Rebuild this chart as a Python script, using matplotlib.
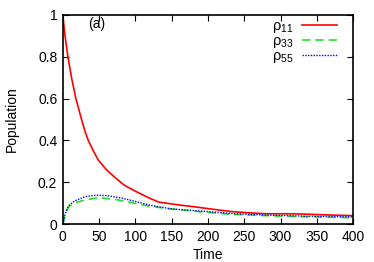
import matplotlib
matplotlib.use("Agg")
import matplotlib.pyplot as plt
from matplotlib.ticker import FuncFormatter

plt.rcParams['font.family'] = ['Liberation Sans', 'DejaVu Sans']
plt.rcParams['mathtext.fontset'] = 'custom'
plt.rcParams['mathtext.rm'] = 'Liberation Sans'
plt.rcParams['mathtext.it'] = 'Liberation Sans'

t11 = [0, 3, 7, 12, 18, 25, 30, 35, 42, 49, 60, 72, 85, 95, 108, 118, 132, 150, 165, 180, 197, 215, 234, 255, 280, 300, 327, 360, 400]
rho11 = [1.0, 0.9, 0.8, 0.7, 0.6, 0.51, 0.45, 0.4, 0.35, 0.305, 0.26, 0.222, 0.185, 0.166, 0.143, 0.126, 0.105, 0.096, 0.089, 0.083, 0.075, 0.067, 0.059, 0.054, 0.049, 0.049, 0.048, 0.044, 0.040]

t33 = [0, 3, 6, 9, 16, 30, 49, 72, 95, 118, 141, 188, 234, 280, 327, 400]
rho33 = [0.0, 0.04, 0.07, 0.086, 0.10, 0.115, 0.126, 0.118, 0.102, 0.086, 0.075, 0.059, 0.046, 0.040, 0.035, 0.030]

t55 = [0, 3, 6, 9, 16, 30, 45, 60, 80, 100, 120, 150, 190, 234, 280, 330, 400]
rho55 = [0.0, 0.045, 0.075, 0.09, 0.11, 0.13, 0.138, 0.136, 0.125, 0.108, 0.09, 0.072, 0.062, 0.05, 0.043, 0.038, 0.034]

xticks = [0, 50, 100, 150, 200, 250, 300, 350, 400]
yticks = [0, 0.2, 0.4, 0.6, 0.8, 1.0]

fig = plt.figure(figsize=(3.74, 2.62), dpi=100)
ax = fig.add_axes([0.168, 0.145, 0.776, 0.798])

ax.plot(t11, rho11, color='#ff0000', lw=1.2, label=r'$\rho_{11}$')
ax.plot(t33, rho33, color='#22e022', lw=1.2, ls=(0, (5, 3)), label=r'$\rho_{33}$')
ax.plot(t55, rho55, color='#0000ff', lw=1.0, ls=(0, (1, 1)), label=r'$\rho_{55}$')

ax.set_xlim(0, 400)
ax.set_ylim(0, 1)
ax.set_xticks(xticks)
ax.set_yticks(yticks)
ax.yaxis.set_major_formatter(FuncFormatter(lambda v, p: '%g' % v))
ax.tick_params(direction='in', top=True, right=True, labelsize=10, length=4, pad=4)
for s in ax.spines.values():
    s.set_linewidth(1.2)

ax.set_xlabel('Time', fontsize=10, labelpad=3.5)
ax.set_ylabel('Population', fontsize=10, labelpad=14)
ax.text(46, 0.955, '(a)', fontsize=10, ha='center', va='center')

leg = ax.legend(loc='upper right', frameon=False, markerfirst=False, fontsize=10.5,
                handlelength=2.4, labelspacing=-0.08, borderaxespad=0.2, borderpad=0.1,
                handletextpad=0.6, bbox_to_anchor=(0.96, 1.0))

fig.savefig('out.png', dpi=100)
